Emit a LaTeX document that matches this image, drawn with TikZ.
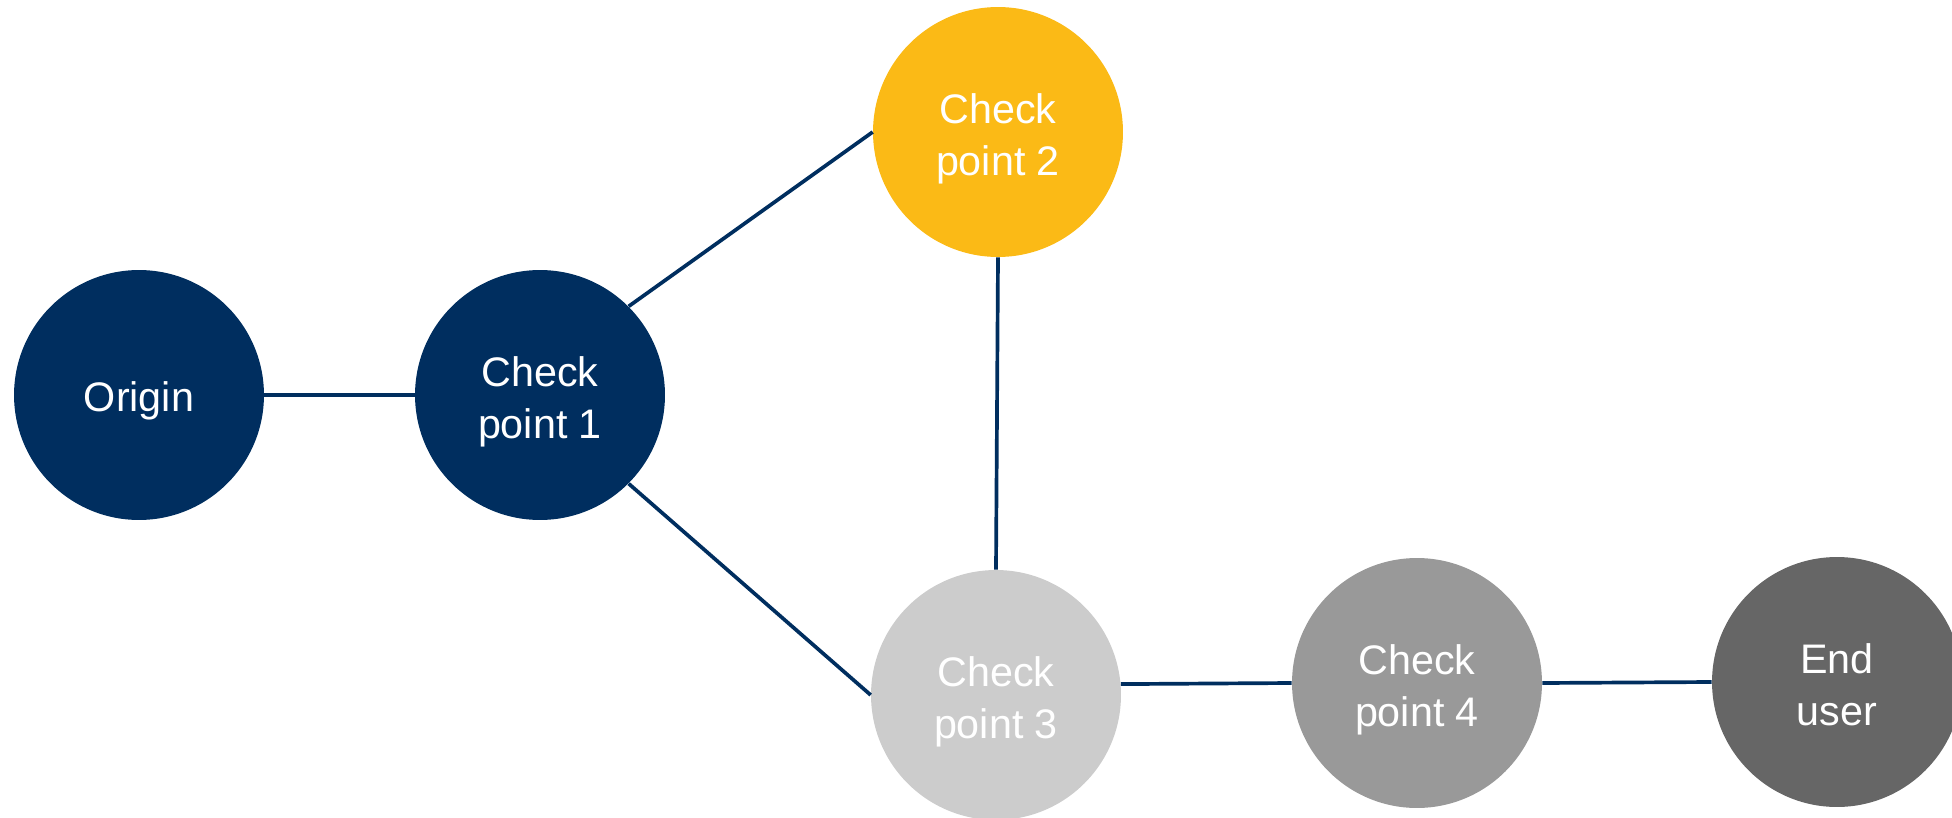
\documentclass[tikz,border=0pt]{standalone}
\usepackage{fontspec}
\setmainfont{Liberation Sans}
\definecolor{navy}{HTML}{002E5F}
\definecolor{gold}{HTML}{FBBA16}
\definecolor{lgray}{HTML}{CCCCCC}
\definecolor{mgray}{HTML}{999999}
\definecolor{dgray}{HTML}{666666}
\newcommand{\twoline}[2]{\begin{tabular}[t]{@{}c@{}}#1\\#2\end{tabular}}
\begin{document}
\begin{tikzpicture}[x=0.02cm,y=-0.02cm,
  dot/.style={circle,minimum size=5cm,inner sep=0pt,text=white,
    font=\fontsize{23.5}{29.5}\selectfont},
  dotone/.style={dot,text height=24pt,text depth=5pt},
  dottwo/.style={dot,text height=24pt,text depth=33.6pt},
  link/.style={draw=navy,line width=2.1pt}]
\useasboundingbox (0,0) rectangle (1952,818);
\begin{scope}
\clip (0,0) rectangle (1952,818);
\node[dotone,fill=navy] (origin) at (139,395) {Origin};
\node[dottwo,fill=navy] (cp1) at (540,395) {\twoline{Check}{point 1}};
\node[dottwo,fill=gold] (cp2) at (998,132) {\twoline{Check}{point 2}};
\node[dottwo,fill=lgray] (cp3) at (996,695) {\twoline{Check}{point 3}};
\node[dottwo,fill=mgray] (cp4) at (1417,683) {\twoline{Check}{point 4}};
\node[dottwo,fill=dgray] (end) at (1837,682) {\twoline{End}{user}};
\end{scope}
\path[link] (origin.east) -- (cp1.west);
\path[link] (cp1.45) -- (cp2.west);
\path[link] (cp1.-45) -- (cp3.west);
\path[link] (cp2.south) -- (cp3.north);
\path[link] (cp3.5.5) -- (cp4.west);
\path[link] (cp4.east) -- (end.west);
\end{tikzpicture}
\end{document}
